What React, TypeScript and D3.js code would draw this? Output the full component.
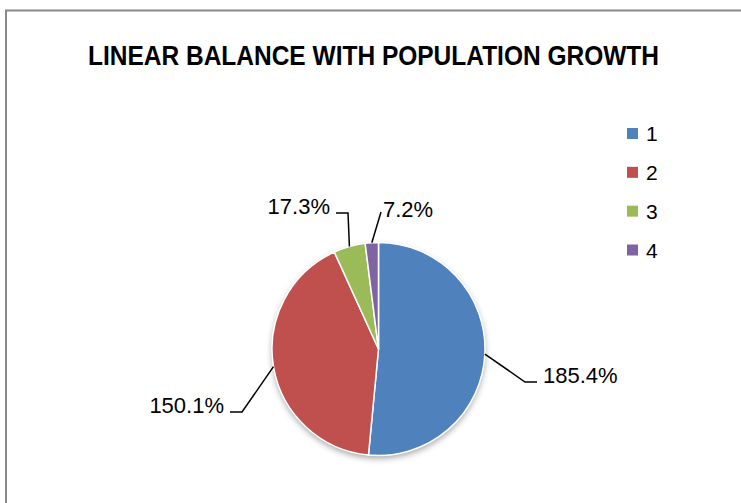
import React from "react";
import * as d3 from "d3";

const categories = ["1", "2", "3", "4"];
const values = [185.4, 150.1, 17.3, 7.2];
const colors = ["#4F81BD", "#C0504D", "#9BBB59", "#8064A2"];
const title = "LINEAR BALANCE WITH POPULATION GROWTH";

// label layout: elbow offset from pie centre, tail length (signed)
const labelElbows: [number, number][] = [
  [146.5, 33],
  [-136.5, 63],
  [-30.5, -136],
  [2.5, -137],
];
const labelTails = [12, -12, -12, 0];

const W = 741;
const H = 503;
const cx = 378.5;
const cy = 349;
const R = 106.5;

export default function App() {
  const pie = d3
    .pie<number>()
    .sort(null)
    .value((d) => d)
    .startAngle(0)
    .endAngle(2 * Math.PI);
  const arcs = pie(values);
  const arc = d3.arc<d3.PieArcDatum<number>>().innerRadius(0).outerRadius(R);
  const edge = d3.arc<d3.PieArcDatum<number>>().innerRadius(R).outerRadius(R);

  const legendY = d3
    .scalePoint<string>()
    .domain(categories)
    .range([133.5, 250]);

  return (
    <svg
      width={W}
      height={H}
      style={{ position: "absolute", left: 0, top: 0, background: "#fff" }}
      fontFamily="'Liberation Sans', Arial, sans-serif"
    >
      <defs>
        <filter id="shadow" x="-20%" y="-20%" width="140%" height="140%">
          <feDropShadow dx="0" dy="3" stdDeviation="3" floodColor="#000" floodOpacity="0.35" />
        </filter>
      </defs>
      <rect x={0} y={0} width={W} height={H} fill="#fff" />
      <line x1={6} y1={10} x2={6} y2={H} stroke="#888" strokeWidth={2} />
      <line x1={5} y1={10.5} x2={W} y2={10.5} stroke="#888" strokeWidth={2} />

      <text
        x={373.5}
        y={65}
        textAnchor="middle"
        fontWeight="bold"
        fontSize={27.5}
        textLength={571}
        lengthAdjust="spacingAndGlyphs"
        fill="#000"
      >
        {title}
      </text>

      <g transform={`translate(${cx},${cy})`}>
        <g filter="url(#shadow)">
          <circle r={R} fill="#fff" />
        </g>
        {arcs.map((a, i) => (
          <path key={i} d={arc(a) || ""} fill={colors[i]} stroke="#fff" strokeWidth={1.5} />
        ))}
        {arcs.map((a, i) => {
          const [ex, ey] = edge.centroid(a);
          const [bx, by] = labelElbows[i];
          const tx = bx + labelTails[i];
          const pts = labelTails[i] === 0 ? [[ex, ey], [bx, by]] : [[ex, ey], [bx, by], [tx, by]];
          const right = labelTails[i] >= 0;
          const textX = tx + (right ? 2 + (labelTails[i] ? 4 : 0) : -6);
          return (
            <g key={"l" + i}>
              <path
                d={d3.line()(pts as [number, number][]) || ""}
                fill="none"
                stroke="#000"
                strokeWidth={1.5}
              />
              <text
                x={textX}
                y={by + (labelTails[i] === 0 ? 5 : 1)}
                textAnchor={right ? "start" : "end"}
                fontSize={22}
                fill="#000"
              >
                {values[i].toFixed(1) + "%"}
              </text>
            </g>
          );
        })}
      </g>

      {categories.map((c, i) => (
        <g key={c}>
          <rect x={627} y={(legendY(c) || 0) - 5.5} width={11} height={11} fill={colors[i]} />
          <text x={646} y={(legendY(c) || 0) + 7.5} fontSize={21} fill="#000">
            {c}
          </text>
        </g>
      ))}
    </svg>
  );
}
